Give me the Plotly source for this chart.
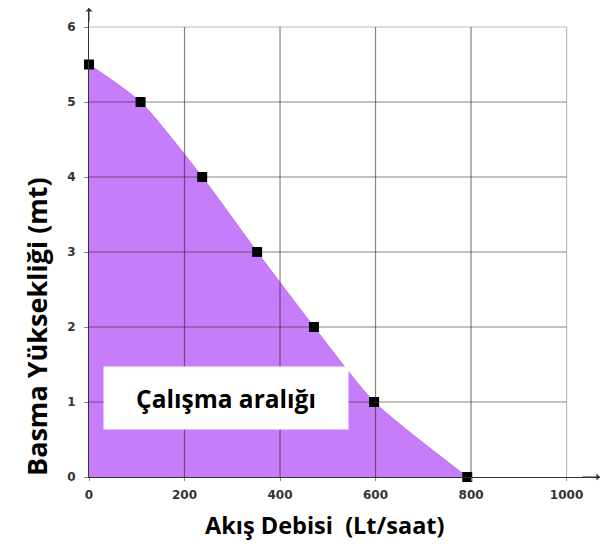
import plotly.graph_objects as go

flow = [0, 108, 237, 352, 471, 597, 792]
head = [5.5, 5.0, 4.0, 3.0, 2.0, 1.0, 0.0]
x_ticks = [0, 200, 400, 600, 800, 1000]
y_ticks = [0, 1, 2, 3, 4, 5, 6]
x_title = "Akış Debisi \u00a0(Lt/saat)"
y_title = "Basma Yüksekliği (mt)"
box_text = "Çalışma aralığı"

# page body has an 8px margin; figure is sized/offset to compensate
OFF = 8
W, H = 611 - OFF, 553 - OFF
L, R, T, B = 89 - OFF, 11, 0, 76
PW, PH = W - L - R, H - T - B
X_MAX = 1070
Y_MAX = PH / 75.0

fig = go.Figure()
fig.add_trace(go.Scatter(
    x=flow, y=head, mode="lines", fill="tozeroy",
    fillcolor="rgb(199,125,250)",
    line=dict(color="rgb(185,105,240)", width=1, shape="spline", smoothing=0.6),
    hoverinfo="skip", showlegend=False))

shapes = []
grid_col = "rgba(30,30,30,0.55)"
edge_col = "rgba(30,30,30,0.3)"
for xv in x_ticks[1:]:
    shapes.append(dict(type="line", xref="x", yref="y", x0=xv, x1=xv, y0=0, y1=y_ticks[-1],
                       line=dict(color=edge_col if xv == x_ticks[-1] else grid_col, width=1.2),
                       layer="above"))
for yv in y_ticks[1:]:
    shapes.append(dict(type="line", xref="x", yref="y", x0=0, x1=x_ticks[-1], y0=yv, y1=yv,
                       line=dict(color=edge_col if yv == y_ticks[-1] else grid_col, width=1.2),
                       layer="above"))

fig.add_trace(go.Scatter(
    x=flow, y=head, mode="markers",
    marker=dict(symbol="square", size=10, color="black"),
    hoverinfo="skip", showlegend=False, cliponaxis=False))

annotations = [
    dict(x=X_MAX, y=0, ax=X_MAX - 40, ay=0, xref="x", yref="y", axref="x", ayref="y",
         text="", showarrow=True, arrowhead=1, arrowsize=1.2, arrowwidth=1, arrowcolor="#333"),
    dict(x=0, y=Y_MAX, ax=0, ay=Y_MAX - 0.2, xref="x", yref="y", axref="x", ayref="y",
         text="", showarrow=True, arrowhead=1, arrowsize=1.2, arrowwidth=1, arrowcolor="#333"),
    dict(x=287, y=1.05, xref="x", yref="y", text=box_text, showarrow=False,
         bgcolor="white", width=242, height=60,
         font=dict(family="Open Sans", size=24.5, color="black", weight="bold")),
    dict(x=(37 - 89) / PW, y=(477 - 327) / PH, xref="paper", yref="paper",
         xanchor="center", yanchor="middle", text=y_title, showarrow=False,
         textangle=-90, font=dict(family="Open Sans", size=27, color="black", weight="bold")),
    dict(x=(325 - 89) / PW, y=(477 - 525) / PH, xref="paper", yref="paper",
         xanchor="center", yanchor="middle", text=x_title, showarrow=False,
         font=dict(family="Open Sans", size=23.5, color="black", weight="bold")),
]

fig.update_layout(
    width=W, height=H,
    margin=dict(l=L, r=R, t=T, b=B, autoexpand=False),
    paper_bgcolor="white", plot_bgcolor="white",
    shapes=shapes, annotations=annotations,
    xaxis=dict(range=[0, X_MAX], tickvals=x_ticks, showgrid=False, zeroline=False,
               showline=True, linecolor="#333", linewidth=1,
               ticks="outside", ticklen=3, tickcolor="#888", ticklabelstandoff=4,
               tickfont=dict(family="DejaVu Sans", size=12, color="#333", weight="bold")),
    yaxis=dict(range=[0, Y_MAX], tickvals=y_ticks, showgrid=False, zeroline=False,
               showline=True, linecolor="#333", linewidth=1,
               ticks="outside", ticklen=4, tickcolor="#888", ticklabelstandoff=6,
               tickfont=dict(family="DejaVu Sans", size=12, color="#333", weight="bold")),
)

fig.write_html("out.html")
